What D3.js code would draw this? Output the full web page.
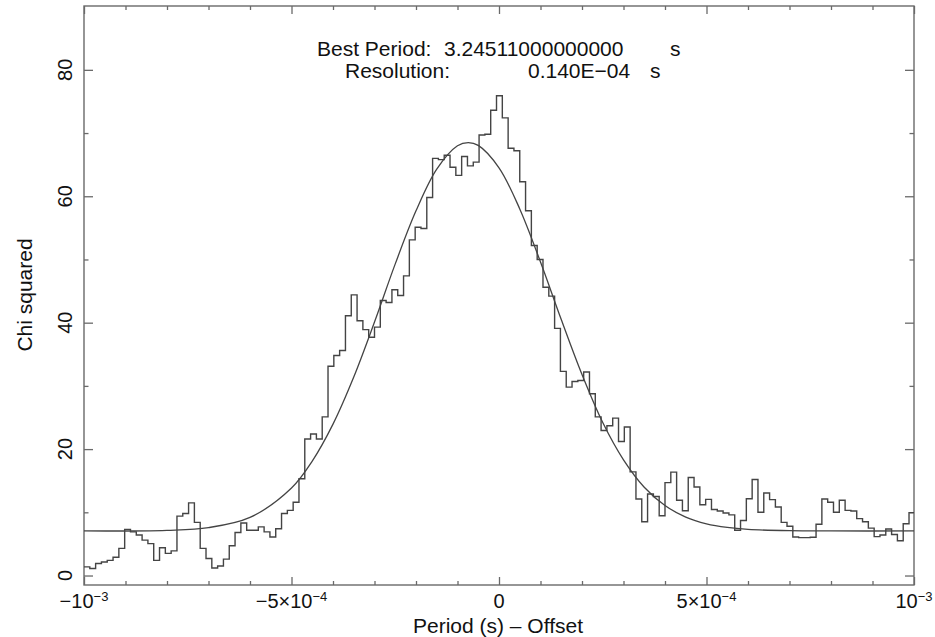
<!DOCTYPE html>
<html>
<head>
<meta charset="utf-8">
<script src="https://cdn.jsdelivr.net/npm/d3@7"></script>
<style>
  html, body { margin: 0; padding: 0; background: #fff; }
  svg { display: block; font-family: "Liberation Sans", Arial, Helvetica, sans-serif; }
</style>
</head>
<body>
<svg id="chart" width="935" height="637"></svg>
<script>
// Period search: chi-squared versus trial period offset (s)
const periodRange = [-1e-3, 1e-3];
const chiRange = [-1.5, 90.1];
const resolution = 1.4e-5;

// chi-squared per trial period bin, starting at periodRange[0]
const chiSquared = [
  1.36, 1.1, 1.9, 2.15, 2.4, 2.9, 4.3, 7.3, 6.9, 6.4,
  5.6, 5.05, 2.4, 4.4, 3.5, 3.9, 9.4, 9.8, 11.5, 8.4,
  4.3, 2.7, 1.2, 1.5, 2.6, 4.7, 6.8, 8.3, 7.15, 7.15,
  7.7, 6.9, 6.1, 7.4, 9.8, 10.3, 11.6, 15.3, 21.6, 22.4,
  21.6, 25.1, 33.1, 34.8, 35.6, 41.1, 44.4, 40.3, 38.9, 37.7,
  39.3, 43.5, 43.2, 45.2, 44.3, 47.4, 53.1, 55.1, 54.9, 59.8,
  66.0, 65.8, 66.5, 64.6, 63.3, 66.3, 64.8, 65.4, 69.7, 69.8,
  73.6, 75.9, 72.4, 67.6, 67.2, 62.3, 57.7, 52.2, 50.0, 45.6,
  44.2, 39.1, 32.3, 29.8, 30.7, 30.85, 32.2, 28.75, 25.1, 22.95,
  23.7, 24.9, 21.2, 23.5, 16.4, 12.1, 8.5, 12.9, 12.5, 9.45,
  14.7, 16.35, 11.9, 10.25, 15.5, 14.0, 11.2, 12.05, 10.45, 10.2,
  9.9, 9.6, 7.15, 8.7, 12.15, 15.2, 10.0, 13.05, 12.0, 10.85,
  8.4, 7.8, 6.1, 6.0, 6.0, 6.05, 8.1, 12.1, 11.6, 10.0,
  11.9, 10.3, 10.2, 9.0, 8.5, 7.5, 6.15, 6.4, 7.35, 6.5,
  5.5, 8.2, 9.95
];

// fitted profile, sampled at offsets given in units of 1e-4 s
const fitOffsets = [-10, -8, -7, -6, -5, -4.5, -4, -3.5, -3, -2.5, -2, -1.5, -1, -0.74, -0.5,
  0, 0.5, 1, 1.5, 2, 2.5, 3, 3.5, 4, 4.5, 5, 5.5, 6, 7, 8, 10];
const fitChi = [7.05, 7.15, 7.58, 9.19, 13.84, 18.1, 23.95, 31.4, 40.1, 49.3, 57.7, 64.3, 68.0, 68.5, 68.05,
  64.5, 58.0, 49.6, 40.5, 31.8, 24.2, 18.3, 13.97, 11.07, 9.24, 8.17, 7.6, 7.3, 7.09, 7.05, 7.05];

const xMajor = [-1e-3, -5e-4, 0, 5e-4, 1e-3];
const xMinor = [-9e-4, -8e-4, -7e-4, -6e-4, -4e-4, -3e-4, -2e-4, -1e-4, 1e-4, 2e-4, 3e-4, 4e-4, 6e-4, 7e-4, 8e-4, 9e-4];
const xTickBase = ["\u221210", "\u22125\u00d710", "0", "5\u00d710", "10"];
const xTickExp = ["\u22123", "\u22124", "", "\u22124", "\u22123"];
const yMajor = [0, 20, 40, 60, 80];
const yMinor = [10, 30, 50, 70];

const titleLines = [
  ["Best Period:", "3.24511000000000", "s"],
  ["Resolution:", "0.140E\u221204", "s"]
];

const margin = { left: 84, right: 21, top: 6, bottom: 52 };
const W = 935, H = 637;
const svg = d3.select("#chart");
const x = d3.scaleLinear().domain(periodRange).range([margin.left, W - margin.right]);
const y = d3.scaleLinear().domain(chiRange).range([H - margin.bottom, margin.top]);

const frameColor = "#6a6a6a";
const lineColor = "#444";

const clip = svg.append("defs").append("clipPath").attr("id", "plot-clip")
  .append("rect")
  .attr("x", x.range()[0]).attr("y", y.range()[1])
  .attr("width", x.range()[1] - x.range()[0])
  .attr("height", y.range()[0] - y.range()[1]);

// ticks on all four sides, pointing inward
function tickAxis(axis, transform) {
  const g = svg.append("g").attr("transform", transform).call(axis);
  g.select(".domain").remove();
  g.selectAll("text").remove();
  g.selectAll("line").attr("stroke", frameColor).attr("stroke-width", 1.3);
  return g;
}
const bottomY = y.range()[0], topY = y.range()[1];
const leftX = x.range()[0], rightX = x.range()[1];
tickAxis(d3.axisBottom(x).tickValues(xMajor).tickSize(-8), `translate(0,${bottomY})`);
tickAxis(d3.axisBottom(x).tickValues(xMinor).tickSize(-4), `translate(0,${bottomY})`);
tickAxis(d3.axisTop(x).tickValues(xMajor).tickSize(-8), `translate(0,${topY})`);
tickAxis(d3.axisTop(x).tickValues(xMinor).tickSize(-4), `translate(0,${topY})`);
tickAxis(d3.axisLeft(y).tickValues(yMajor).tickSize(-9), `translate(${leftX},0)`);
tickAxis(d3.axisLeft(y).tickValues(yMinor).tickSize(-4.5), `translate(${leftX},0)`);
tickAxis(d3.axisRight(y).tickValues(yMajor).tickSize(-9), `translate(${rightX},0)`);
tickAxis(d3.axisRight(y).tickValues(yMinor).tickSize(-4.5), `translate(${rightX},0)`);

// frame
svg.append("rect")
  .attr("x", leftX).attr("y", topY)
  .attr("width", rightX - leftX).attr("height", bottomY - topY)
  .attr("fill", "none").attr("stroke", frameColor).attr("stroke-width", 1.4);

// x tick labels with exponents
const xl = svg.append("g").attr("font-size", 20).attr("fill", "#111");
xMajor.forEach((v, i) => {
  const t = xl.append("text")
    .attr("x", x(v)).attr("y", 608)
    .attr("text-anchor", "middle");
  t.append("tspan").text(xTickBase[i]);
  if (xTickExp[i]) {
    t.append("tspan").attr("font-size", 13).attr("dy", -7).text(xTickExp[i]);
  }
});

// y tick labels, rotated
const yl = svg.append("g").attr("font-size", 20).attr("fill", "#111");
yMajor.forEach(v => {
  yl.append("text")
    .attr("transform", `translate(72,${y(v)}) rotate(-90)`)
    .attr("text-anchor", "middle")
    .text(String(v));
});

// axis titles
svg.append("text")
  .attr("transform", `translate(32,295) rotate(-90)`)
  .attr("text-anchor", "middle").attr("font-size", 21).attr("fill", "#111")
  .text("Chi squared");
svg.append("text")
  .attr("x", (leftX + rightX) / 2 - 1).attr("y", 633)
  .attr("text-anchor", "middle").attr("font-size", 21).attr("fill", "#111")
  .text("Period (s) \u2013 Offset");

// header lines
const colX = [[317, 444, 670], [345, 528, 650]];
const rowY = [56, 78];
titleLines.forEach((row, r) => {
  row.forEach((txt, c) => {
    svg.append("text")
      .attr("x", colX[r][c]).attr("y", rowY[r])
      .attr("font-size", 21).attr("fill", "#111")
      .text(txt);
  });
});

// histogram of chi-squared (steps)
const stepPts = chiSquared.map((v, i) => [periodRange[0] + i * resolution, v]);
stepPts.push([periodRange[0] + chiSquared.length * resolution, chiSquared[chiSquared.length - 1]]);
const plot = svg.append("g").attr("clip-path", "url(#plot-clip)");
plot.append("path")
  .datum(stepPts)
  .attr("fill", "none").attr("stroke", lineColor).attr("stroke-width", 1.4)
  .attr("stroke-linejoin", "miter")
  .attr("d", d3.line().x(d => x(d[0])).y(d => y(d[1])).curve(d3.curveStepAfter));

// fitted curve
const fitPts = fitOffsets.map((o, i) => [o * 1e-4, fitChi[i]]);
plot.append("path")
  .datum(fitPts)
  .attr("fill", "none").attr("stroke", lineColor).attr("stroke-width", 1.3)
  .attr("d", d3.line().x(d => x(d[0])).y(d => y(d[1])).curve(d3.curveCatmullRom.alpha(0.5)));
</script>
</body>
</html>
